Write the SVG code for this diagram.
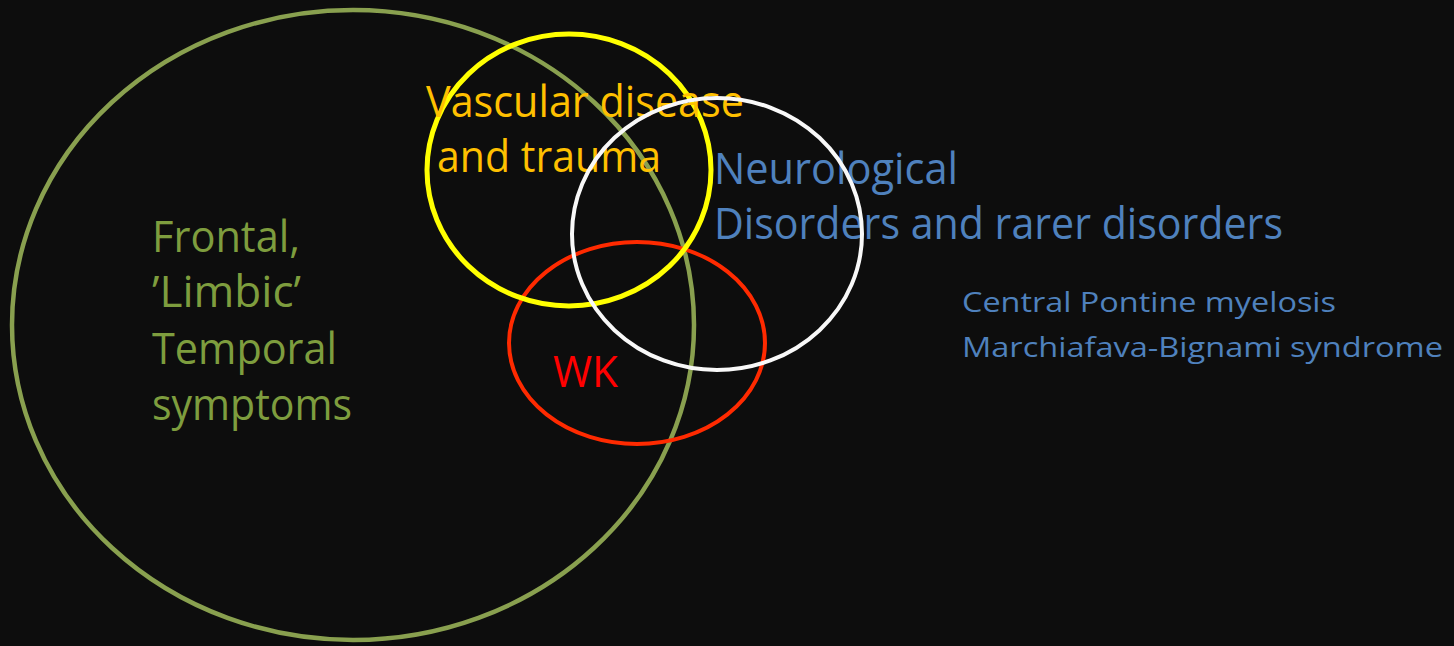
<svg xmlns="http://www.w3.org/2000/svg" width="1454" height="646" viewBox="0 0 1454 646">
<style>
.c{fill:none}
.t{font-family:"Open Sans","Liberation Sans",sans-serif}
.big{font-size:44px}
.small{font-size:28px}
</style>
<rect width="1454" height="646" fill="#0d0d0d"/>
<g id="frontal">
<ellipse class="c" cx="353" cy="325" rx="341" ry="315" stroke="#89a04f" stroke-width="4.5"/>
<text class="t big" fill="#7e9d3e"><tspan x="152" y="252" textLength="148" lengthAdjust="spacingAndGlyphs">Frontal,</tspan><tspan x="152" y="307" textLength="149" lengthAdjust="spacingAndGlyphs">’Limbic’</tspan><tspan x="152" y="364" textLength="185" lengthAdjust="spacingAndGlyphs">Temporal</tspan><tspan x="152" y="420" textLength="200" lengthAdjust="spacingAndGlyphs">symptoms</tspan></text>
</g>
<g id="wk">
<ellipse class="c" cx="637" cy="343" rx="128" ry="101" stroke="#ff2a00" stroke-width="4"/>
<text class="t big" fill="#ff0000" x="553" y="387" textLength="65" lengthAdjust="spacingAndGlyphs">WK</text>
</g>
<g id="vascular">
<ellipse class="c" cx="569" cy="170" rx="142" ry="136" stroke="#ffff00" stroke-width="5"/>
<text class="t big" fill="#ffc000"><tspan x="426" y="117" textLength="318" lengthAdjust="spacingAndGlyphs">Vascular disease</tspan><tspan x="437" y="172" textLength="224" lengthAdjust="spacingAndGlyphs">and trauma</tspan></text>
</g>
<g id="neuro">
<text class="t big" fill="#4f81bd"><tspan x="714" y="184" textLength="244" lengthAdjust="spacingAndGlyphs">Neurological</tspan><tspan x="714" y="239" textLength="569" lengthAdjust="spacingAndGlyphs">Disorders and rarer disorders</tspan></text>
<ellipse class="c" cx="717" cy="234" rx="145" ry="136" stroke="#f8f8f8" stroke-width="4"/>
</g>
<g id="rare">
<text class="t small" fill="#4f81bd"><tspan x="962" y="312" textLength="374" lengthAdjust="spacingAndGlyphs">Central Pontine myelosis</tspan><tspan x="962" y="357" textLength="481" lengthAdjust="spacingAndGlyphs">Marchiafava-Bignami syndrome</tspan></text>
</g>
</svg>
